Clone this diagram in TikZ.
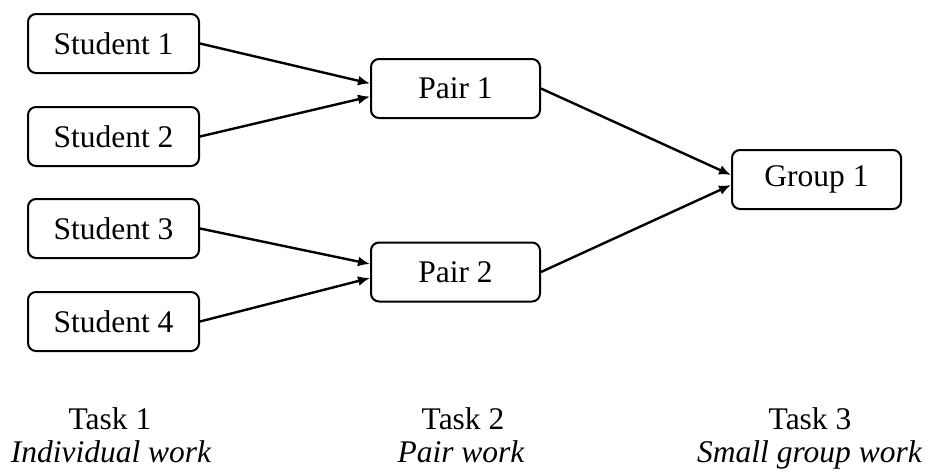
\documentclass[tikz,border=0pt]{standalone}
\usepackage{fontspec}
\setmainfont{Liberation Serif}
\usetikzlibrary{arrows.meta}
\begin{document}
\begin{tikzpicture}[x=1pt,y=-1pt,
  box/.style={draw, line width=2pt, rounded corners=8pt, minimum width=171pt, minimum height=59pt, inner sep=0pt, font=\fontsize{31.5}{36}\selectfont},
  conn/.style={line width=2.4pt, -{Latex[length=12pt,width=10pt]}},
  lab/.style={anchor=base, inner sep=0pt, font=\fontsize{31.5}{36}\selectfont},
  ilab/.style={lab, font=\fontsize{31.5}{36}\selectfont\itshape}]
\useasboundingbox (0,0) rectangle (928,472);
\node[box] (s1) at (113.5,43.5) {Student 1};
\node[box] (s2) at (113.5,136.5) {Student 2};
\node[box] (s3) at (113.5,228.5) {Student 3};
\node[box] (s4) at (113.5,321.5) {Student 4};
\node[box, minimum width=169pt] (p1) at (455.5,88.5) {Pair 1};
\node[box, minimum width=169pt] (p2) at (455.5,272) {Pair 2};
\node[box, minimum width=169pt] (g1) at (816.5,179.5) {Group 1};
\draw[conn] (s1.east) -- ([yshift=5pt]p1.west);
\draw[conn] (s2.east) -- ([yshift=-8pt]p1.west);
\draw[conn] (s3.east) -- ([yshift=8pt]p2.west);
\draw[conn] (s4.east) -- ([yshift=-6pt]p2.west);
\draw[conn] (p1.east) -- ([yshift=4.5pt]g1.west);
\draw[conn] (p2.east) -- ([yshift=-5.5pt]g1.west);
\node[lab] (t1) at (110,429) {Task 1};
\node[lab] (t2) at (463,429) {Task 2};
\node[lab] (t3) at (810,429) {Task 3};
\node[ilab] (w1) at (111,462) {Individual work};
\node[ilab] (w2) at (461,462) {Pair work};
\node[ilab] (w3) at (809.5,462) {Small group work};
\end{tikzpicture}
\end{document}
